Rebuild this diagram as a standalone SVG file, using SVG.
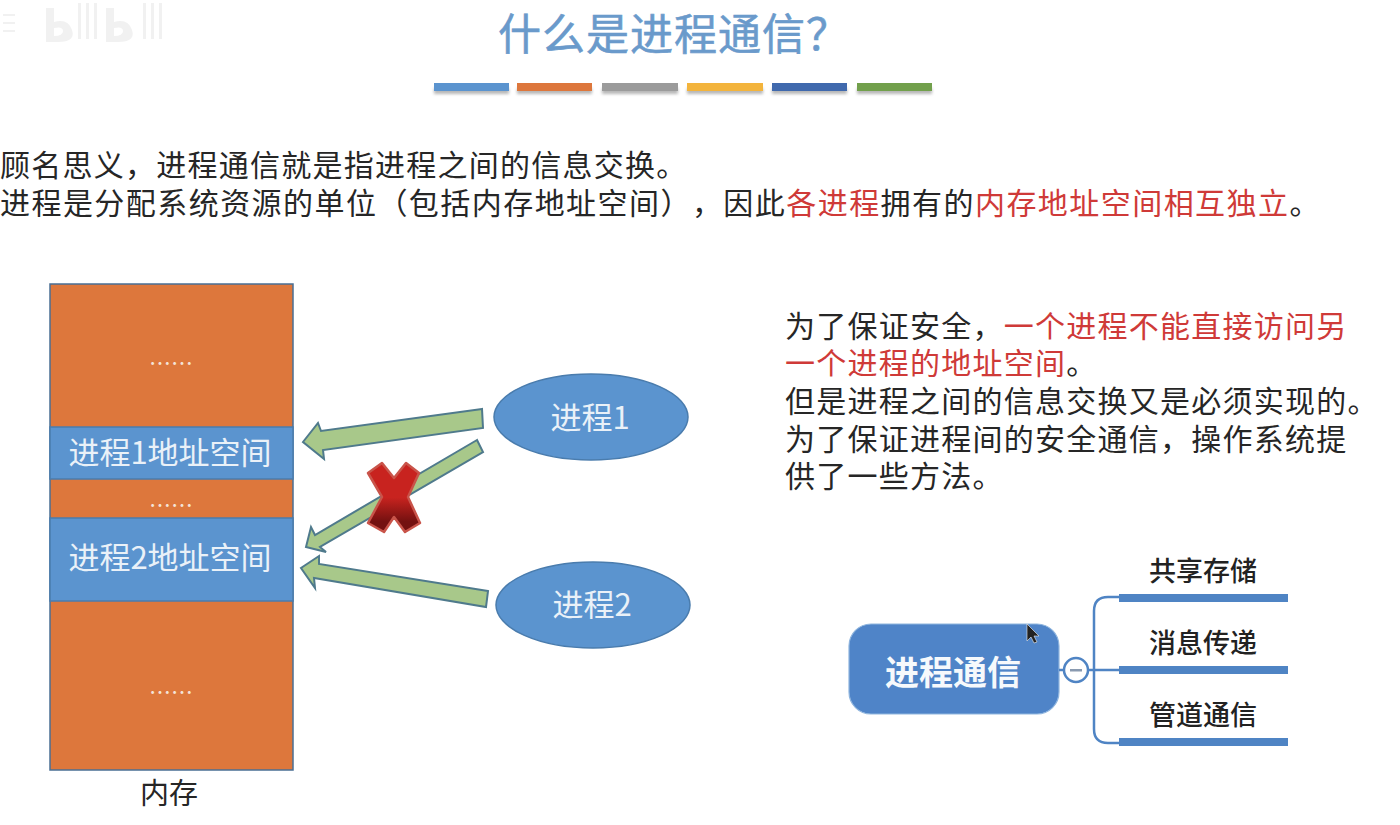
<svg xmlns="http://www.w3.org/2000/svg" width="1400" height="825" viewBox="0 0 1400 825">
<defs>
<linearGradient id="xg" x1="0" y1="0" x2="0" y2="1"><stop offset="0.5" stop-color="#c8231f"/><stop offset="0.85" stop-color="#741110"/></linearGradient>
<filter id="sh" x="-5%" y="-50%" width="110%" height="250%"><feGaussianBlur stdDeviation="1.5"/></filter>
</defs>
<style>
text{font-family:"Noto Sans CJK SC","Liberation Sans",sans-serif;text-spacing-trim:space-all;font-kerning:none}
.body{font-size:30px;letter-spacing:1.25px;fill:#262626}
.red{fill:#cf3a38}
.mem{fill:#dd773c;stroke:#4a6f94;stroke-width:1.5}
.seg{fill:#5b94cf;stroke:#4a7cad;stroke-width:1.5}
.wt{fill:#eaf1f8;font-size:31px;text-anchor:middle}
.dots{fill:#f4e4d8;font-size:22px;text-anchor:middle}
.arrow{fill:#a8c88a;stroke:#4f7a8c;stroke-width:2;stroke-linejoin:miter}
.ell{fill:#5b94cf;stroke:#4a7cad;stroke-width:1.5}
.bar{fill:#4f84c4}
.bran{fill:none;stroke:#4f84c4;stroke-width:2.5}
.lab{font-size:27px;font-weight:500;fill:#222;text-anchor:middle}
</style>
<rect width="1400" height="825" fill="#ffffff"/>
<g id="watermark" fill="#f1f1f1">
<path d="M28 8h8l0 14q14-4 18 8t-14 12h-12zM36 28v8q9 0 9-5t-9-3z" transform="translate(18 0)"/>
<rect x="78" y="3" width="3" height="36"/><rect x="86" y="3" width="3" height="36"/><rect x="94" y="3" width="3" height="36"/>
<path d="M102 8h8l0 14q14-4 18 8t-14 12h-12zM110 28v8q9 0 9-5t-9-3z" transform="translate(4 0)"/>
<rect x="143" y="3" width="3" height="36"/><rect x="151" y="3" width="3" height="36"/><rect x="159" y="3" width="3" height="36"/>
<rect x="3" y="14" width="12" height="2"/><rect x="3" y="22" width="12" height="2"/><rect x="3" y="30" width="12" height="2"/>
</g>
<g id="title">
<text x="498" y="50" font-size="43" letter-spacing="1" fill="#6a9acb" stroke="#6a9acb" stroke-width="0.6">什么是进程通信？</text>
<g id="title-bars">
<g filter="url(#sh)" fill="#9a9a9a" opacity="0.7"><rect x="434" y="88" width="75" height="6"/><rect x="517" y="88" width="75" height="6"/><rect x="602" y="88" width="76" height="6"/><rect x="687" y="88" width="76" height="6"/><rect x="772" y="88" width="75" height="6"/><rect x="857" y="88" width="75" height="6"/></g>
<rect x="434" y="83" width="75" height="8" fill="#5b94cf"/><rect x="517" y="83" width="75" height="8" fill="#dd773c"/><rect x="602" y="83" width="76" height="8" fill="#9b9b9b"/><rect x="687" y="83" width="76" height="8" fill="#f3b43c"/><rect x="772" y="83" width="75" height="8" fill="#4069ad"/><rect x="857" y="83" width="75" height="8" fill="#72a04c"/>
</g>
</g>
<g id="intro">
<text class="body" x="0" y="176">顾名思义，进程通信就是指进程之间的信息交换。</text>
<text class="body" x="0" y="214" style="letter-spacing:1.45px">进程是分配系统资源的单位（包括内存地址空间），因此<tspan class="red">各进程</tspan>拥有的<tspan class="red">内存地址空间相互独立</tspan>。</text>
</g>
<g id="memory">
<rect class="mem" x="50" y="284" width="243" height="486"/>
<text class="dots" x="171" y="371">……</text>
<rect class="seg" x="50" y="427" width="243" height="52"/>
<text class="wt" x="170" y="464">进程1地址空间</text>
<text class="dots" x="171" y="513">……</text>
<rect class="seg" x="50" y="518" width="243" height="83"/>
<text class="wt" x="170" y="569">进程2地址空间</text>
<text class="dots" x="171" y="700">……</text>
<text x="169" y="804" font-size="29" fill="#262626" text-anchor="middle">内存</text>
</g>
<g id="process1">
<ellipse class="ell" cx="591" cy="417" rx="97" ry="43"/>
<text class="wt" x="590" y="429">进程1</text>
</g>
<g id="process2">
<ellipse class="ell" cx="593" cy="605" rx="97" ry="43"/>
<text class="wt" x="592" y="616">进程2</text>
</g>
<g id="connectors">
<polygon class="arrow" points="482,409 321,431 318,423 303,442 324,459 323,450 483,428"/>
<polygon class="arrow" points="477,440 315,535 311,527 306,547 326,552 320,547 483,452"/>
<polygon class="arrow" points="488,591 319,564 319,556 301,568 315,588 314,578 486,607"/>
</g>
<g id="cross">
<polygon points="368,473 382,463 394,478 406,463 419,473 408,497 420,523 405,532 394,517 384,532 368,523 382,497" fill="url(#xg)" stroke="#c9544a" stroke-width="2.5" stroke-linejoin="round"/>
</g>
<g id="explanation">
<text class="body" x="785" y="337">为了保证安全，<tspan class="red">一个进程不能直接访问另</tspan></text>
<text class="body" x="785" y="374"><tspan class="red">一个进程的地址空间</tspan>。</text>
<text class="body" x="785" y="412">但是进程之间的信息交换又是必须实现的。</text>
<text class="body" x="785" y="450">为了保证进程间的安全通信，操作系统提</text>
<text class="body" x="785" y="487">供了一些方法。</text>
</g>
<g id="mindmap-root">
<rect x="849" y="624" width="210" height="90" rx="22" fill="#4f84c8" stroke="#8fb5de" stroke-width="1.2"/>
<text x="953" y="685" font-size="34" font-weight="700" fill="#f6f9fc" text-anchor="middle">进程通信</text>
<path d="M1027 624l0 17 4-4 3 6 3-1-3-6 5 0z" fill="#222" stroke="#eee" stroke-width="0.6"/>
</g>
<g id="mindmap-connectors">
<path class="bran" d="M1059 670H1120M1119 597H1108q-14 0-14 14V729q0 14 14 14H1119"/>
<circle cx="1076" cy="670" r="12" fill="#fff" stroke="#4f84c4" stroke-width="2.5"/>
<rect x="1070" y="669" width="12" height="2.5" fill="#8a9ab0"/>
</g>
<g id="branch1"><rect class="bar" x="1119" y="594" width="169" height="8"/><text class="lab" x="1203" y="581">共享存储</text></g>
<g id="branch2"><rect class="bar" x="1119" y="666" width="169" height="8"/><text class="lab" x="1203" y="653">消息传递</text></g>
<g id="branch3"><rect class="bar" x="1119" y="738" width="169" height="8"/><text class="lab" x="1203" y="725">管道通信</text></g>
</svg>
